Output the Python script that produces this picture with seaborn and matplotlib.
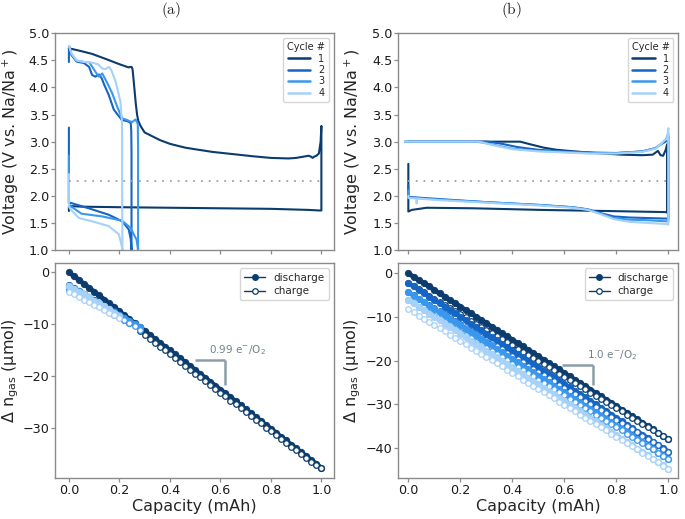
import numpy as np
import pandas as pd
import seaborn as sns
import matplotlib.pyplot as plt
from matplotlib.lines import Line2D

# ---------------- colours ----------------
cycle_colors = ['#0b3c6d', '#1565c4', '#3a97ee', '#a6d1f8']
cycle_labels = ['1', '2', '3', '4']

# ---------------- panel (a) voltage profiles ----------------
va1_x = [0.0, 0.0, 0.01, 0.05, 0.2, 0.4, 0.6, 0.8, 0.95, 0.99, 1.0, 1.0, 0.997, 0.99, 0.98, 0.97, 0.965,
         0.96, 0.95, 0.9, 0.87, 0.8, 0.73, 0.65, 0.57, 0.5, 0.46, 0.4, 0.36, 0.33, 0.30, 0.285, 0.275,
         0.27, 0.265, 0.26, 0.255, 0.252, 0.248, 0.242, 0.237, 0.2, 0.15, 0.092, 0.05, 0.013, 0.0]
va1_y = [1.72, 1.80, 1.81, 1.80, 1.79, 1.78, 1.77, 1.76, 1.74, 1.73, 1.73, 3.29, 3.0, 2.78, 2.74, 2.72, 2.70,
         2.72, 2.74, 2.70, 2.69, 2.70, 2.73, 2.77, 2.81, 2.86, 2.89, 2.96, 3.03, 3.10, 3.17, 3.28, 3.38,
         3.50, 3.70, 3.95, 4.20, 4.34, 4.38, 4.38, 4.37, 4.43, 4.52, 4.62, 4.67, 4.71, 4.72]

va2_x = [0.0, 0.0, 0.0, 0.007, 0.05, 0.092, 0.158, 0.211, 0.237, 0.245, 0.248, 0.248, 0.248, 0.247, 0.245,
         0.24, 0.23, 0.21, 0.198, 0.178, 0.158, 0.14, 0.13, 0.119, 0.105, 0.092, 0.08, 0.06, 0.03, 0.01,
         0.003, 0.0, 0.0]
va2_y = [3.26, 2.5, 1.88, 1.87, 1.81, 1.75, 1.65, 1.53, 1.38, 1.2, 1.0, 2.0, 2.8, 3.2, 3.34,
         3.36, 3.38, 3.40, 3.47, 3.59, 3.86, 4.05, 4.17, 4.24, 4.20, 4.23, 4.38, 4.45, 4.48, 4.6,
         4.72, 4.73, 4.47]

va3_x = [0.0, 0.0, 0.007, 0.05, 0.132, 0.211, 0.244, 0.268, 0.274, 0.274, 0.274, 0.273, 0.272, 0.264,
         0.25, 0.23, 0.211, 0.191, 0.171, 0.15, 0.132, 0.119, 0.105, 0.09, 0.08, 0.06, 0.03, 0.01, 0.003, 0.0]
va3_y = [2.74, 1.85, 1.81, 1.67, 1.62, 1.54, 1.41, 1.19, 1.0, 2.0, 2.89, 3.3, 3.34, 3.41,
         3.36, 3.40, 3.43, 3.65, 3.90, 4.10, 4.26, 4.20, 4.29, 4.40, 4.47, 4.47, 4.5, 4.62, 4.75, 4.75]

va4_x = [0.0, 0.0, 0.007, 0.04, 0.092, 0.158, 0.198, 0.211, 0.212, 0.211, 0.211, 0.21, 0.204, 0.185,
         0.168, 0.158, 0.145, 0.132, 0.115, 0.08, 0.06, 0.03, 0.01, 0.0]
va4_y = [2.4, 1.80, 1.75, 1.59, 1.53, 1.44, 1.29, 1.04, 1.0, 2.0, 3.05, 3.37, 3.74, 4.11,
         4.32, 4.38, 4.34, 4.35, 4.43, 4.47, 4.47, 4.5, 4.63, 4.77]

# ---------------- panel (b) voltage profiles ----------------
vb1_x = [0.0, 0.0, 0.013, 0.07, 0.25, 0.51, 0.76, 0.99, 0.995, 0.995, 0.99, 0.98, 0.97, 0.96, 0.94, 0.9,
         0.82, 0.72, 0.64, 0.57, 0.52, 0.47, 0.43, 0.2, 0.0]
vb1_y = [2.59, 1.71, 1.74, 1.78, 1.77, 1.74, 1.72, 1.70, 1.69, 2.95, 2.85, 2.74, 2.75, 2.83, 2.76, 2.75,
         2.76, 2.79, 2.82, 2.85, 2.89, 2.95, 3.0, 3.0, 3.0]

vb2_x = [0.0, 0.0, 0.12, 0.31, 0.51, 0.63, 0.69, 0.74, 0.79, 0.85, 0.92, 0.99, 1.0, 1.0, 0.99, 0.975, 0.95,
         0.9, 0.8, 0.7, 0.6, 0.5, 0.42, 0.36, 0.32, 0.3, 0.1, -0.013]
vb2_y = [2.2, 1.98, 1.94, 1.88, 1.83, 1.79, 1.75, 1.68, 1.62, 1.60, 1.59, 1.58, 1.58, 3.1, 3.0, 2.96, 2.88,
         2.82, 2.79, 2.80, 2.82, 2.85, 2.90, 2.96, 2.99, 3.0, 3.0, 3.0]

vb3_x = [0.0, 0.0, 0.12, 0.31, 0.51, 0.63, 0.69, 0.74, 0.79, 0.85, 0.92, 0.99, 1.0, 1.0, 0.99, 0.975, 0.95,
         0.9, 0.8, 0.7, 0.6, 0.5, 0.4, 0.34, 0.29, 0.26, 0.1, -0.013]
vb3_y = [2.1, 1.97, 1.93, 1.88, 1.83, 1.79, 1.75, 1.67, 1.59, 1.56, 1.55, 1.53, 1.53, 3.15, 3.03, 2.97, 2.88,
         2.82, 2.79, 2.79, 2.81, 2.83, 2.87, 2.93, 2.98, 3.0, 3.0, 3.0]

vb4_x = [0.0, 0.0, 0.03, 0.032, 0.034, 0.12, 0.31, 0.51, 0.63, 0.69, 0.74, 0.79, 0.85, 0.92, 0.99, 1.0, 1.0,
         0.995, 0.985, 0.975, 0.95, 0.9, 0.8, 0.7, 0.6, 0.5, 0.4, 0.33, 0.29, 0.27, 0.1, -0.013]
vb4_y = [2.0, 1.96, 1.95, 1.86, 1.95, 1.92, 1.87, 1.82, 1.78, 1.74, 1.66, 1.57, 1.52, 1.50, 1.48, 1.47, 3.25,
         3.05, 3.03, 2.97, 2.87, 2.81, 2.78, 2.78, 2.80, 2.82, 2.86, 2.93, 2.98, 3.0, 3.0, 3.0]

cutoff_v = 2.27

# ---------------- gas consumption data ----------------
cap51 = [0.00, 0.02, 0.04, 0.06, 0.08, 0.10, 0.12, 0.14, 0.16, 0.18, 0.20, 0.22, 0.24, 0.26, 0.28, 0.30,
         0.32, 0.34, 0.36, 0.38, 0.40, 0.42, 0.44, 0.46, 0.48, 0.50, 0.52, 0.54, 0.56, 0.58, 0.60, 0.62,
         0.64, 0.66, 0.68, 0.70, 0.72, 0.74, 0.76, 0.78, 0.80, 0.82, 0.84, 0.86, 0.88, 0.90, 0.92, 0.94,
         0.96, 0.98, 1.00]

# panel (a)
ga_d1 = [0.0, -0.8, -1.5, -2.3, -3.0, -3.8, -4.5, -5.3, -6.0, -6.8, -7.6, -8.3, -9.1, -9.8, -10.6, -11.3,
         -12.1, -12.9, -13.6, -14.4, -15.1, -15.9, -16.6, -17.4, -18.1, -18.9, -19.7, -20.4, -21.2, -21.9,
         -22.7, -23.4, -24.2, -24.9, -25.7, -26.5, -27.2, -28.0, -28.7, -29.5, -30.2, -31.0, -31.8, -32.5,
         -33.3, -34.0, -34.8, -35.5, -36.3, -37.0, -37.8]
cap_a1c = [0.28, 0.30, 0.32, 0.34, 0.36, 0.38, 0.40, 0.42, 0.44, 0.46, 0.48, 0.50, 0.52, 0.54, 0.56, 0.58,
           0.60, 0.62, 0.64, 0.66, 0.68, 0.70, 0.72, 0.74, 0.76, 0.78, 0.80, 0.82, 0.84, 0.86, 0.88, 0.90,
           0.92, 0.94, 0.96, 0.98, 1.00]
ga_c1 = [-11.4, -12.2, -12.9, -13.6, -14.4, -15.1, -15.9, -16.6, -17.4, -18.1, -18.8, -19.6, -20.3, -21.1,
         -21.8, -22.6, -23.3, -24.0, -24.8, -25.5, -26.3, -27.0, -27.7, -28.5, -29.2, -30.0, -30.7, -31.4,
         -32.2, -32.9, -33.7, -34.4, -35.1, -35.9, -36.6, -37.3, -37.8]
cap_a2 = [0.00, 0.02, 0.04, 0.06, 0.08, 0.10, 0.12, 0.14, 0.16, 0.18, 0.20, 0.22, 0.24]
ga_d2 = [-2.5, -3.1, -3.6, -4.2, -4.8, -5.4, -5.9, -6.5, -7.1, -7.6, -8.2, -8.8, -9.4]
ga_c2 = [-3.4, -3.9, -4.5, -5.0, -5.5, -6.1, -6.6, -7.1, -7.6, -8.2, -8.7, -9.2, -9.8]
cap_a3 = [0.00, 0.02, 0.04, 0.06, 0.08, 0.10, 0.12, 0.14, 0.16, 0.18, 0.20, 0.22, 0.24, 0.26, 0.28]
ga_d3 = [-2.6, -3.2, -3.7, -4.3, -4.9, -5.5, -6.0, -6.6, -7.2, -7.7, -8.3, -8.9, -9.4, -10.0, -10.6]
ga_c3 = [-3.6, -4.1, -4.6, -5.1, -5.6, -6.1, -6.6, -7.1, -7.6, -8.1, -8.6, -9.2, -9.8, -10.5, -11.2]
cap_a4 = [0.00, 0.02, 0.04, 0.06, 0.08, 0.10, 0.12, 0.14, 0.16, 0.18, 0.20]
ga_d4 = [-2.6, -3.2, -3.8, -4.3, -4.9, -5.5, -6.0, -6.6, -7.2, -7.8, -8.4]
ga_c4 = [-3.9, -4.3, -4.8, -5.3, -5.8, -6.3, -6.8, -7.3, -7.8, -8.3, -8.8]

# panel (b)
gb_d1 = [0.0, -0.8, -1.5, -2.3, -3.0, -3.8, -4.6, -5.3, -6.1, -6.8, -7.6, -8.4, -9.1, -9.9, -10.6, -11.4,
         -12.2, -12.9, -13.7, -14.4, -15.2, -16.0, -16.7, -17.5, -18.2, -19.0, -19.8, -20.5, -21.3, -22.0,
         -22.8, -23.6, -24.3, -25.1, -25.8, -26.6, -27.4, -28.1, -28.9, -29.6, -30.4, -31.2, -31.9, -32.7,
         -33.4, -34.2, -35.0, -35.7, -36.5, -37.2, -38.0]
gb_c1 = [-2.2, -2.9, -3.6, -4.3, -5.1, -5.8, -6.5, -7.2, -7.9, -8.6, -9.4, -10.1, -10.8, -11.5, -12.2, -12.9,
         -13.7, -14.4, -15.1, -15.8, -16.5, -17.2, -18.0, -18.7, -19.4, -20.1, -20.8, -21.5, -22.2, -23.0,
         -23.7, -24.4, -25.1, -25.8, -26.5, -27.3, -28.0, -28.7, -29.4, -30.1, -30.8, -31.6, -32.3, -33.0,
         -33.7, -34.4, -35.1, -35.9, -36.6, -37.3, -38.0]
gb_d2 = [-2.2, -3.0, -3.7, -4.5, -5.3, -6.1, -6.8, -7.6, -8.4, -9.1, -9.9, -10.7, -11.5, -12.2, -13.0, -13.8,
         -14.6, -15.3, -16.1, -16.9, -17.6, -18.4, -19.2, -20.0, -20.7, -21.5, -22.3, -23.0, -23.8, -24.6,
         -25.4, -26.1, -26.9, -27.7, -28.4, -29.2, -30.0, -30.8, -31.5, -32.3, -33.1, -33.9, -34.6, -35.4,
         -36.2, -36.9, -37.7, -38.5, -39.3, -40.0, -40.8]
gb_c2 = [-4.3, -5.0, -5.8, -6.5, -7.2, -8.0, -8.7, -9.4, -10.1, -10.9, -11.6, -12.3, -13.1, -13.8, -14.5,
         -15.3, -16.0, -16.7, -17.4, -18.2, -18.9, -19.6, -20.4, -21.1, -21.8, -22.6, -23.3, -24.0, -24.7,
         -25.5, -26.2, -26.9, -27.7, -28.4, -29.1, -29.9, -30.6, -31.3, -32.0, -32.8, -33.5, -34.2, -35.0,
         -35.7, -36.4, -37.2, -37.9, -38.6, -39.3, -40.1, -40.8]
gb_d3 = [-4.3, -5.1, -5.8, -6.6, -7.4, -8.1, -8.9, -9.6, -10.4, -11.2, -11.9, -12.7, -13.5, -14.2, -15.0,
         -15.8, -16.5, -17.3, -18.1, -18.8, -19.6, -20.3, -21.1, -21.9, -22.6, -23.4, -24.2, -24.9, -25.7,
         -26.5, -27.2, -28.0, -28.7, -29.5, -30.3, -31.0, -31.8, -32.6, -33.3, -34.1, -34.9, -35.6, -36.4,
         -37.2, -37.9, -38.7, -39.4, -40.2, -41.0, -41.7, -42.5]
gb_c3 = [-6.1, -6.8, -7.6, -8.3, -9.0, -9.7, -10.5, -11.2, -11.9, -12.7, -13.4, -14.1, -14.8, -15.6, -16.3,
         -17.0, -17.7, -18.5, -19.2, -19.9, -20.7, -21.4, -22.1, -22.8, -23.6, -24.3, -25.0, -25.8, -26.5,
         -27.2, -27.9, -28.7, -29.4, -30.1, -30.9, -31.6, -32.3, -33.0, -33.8, -34.5, -35.2, -35.9, -36.7,
         -37.4, -38.1, -38.9, -39.6, -40.3, -41.0, -41.8, -42.5]
gb_d4 = [-6.1, -6.9, -7.6, -8.4, -9.2, -10.0, -10.7, -11.5, -12.3, -13.0, -13.8, -14.6, -15.4, -16.1, -16.9,
         -17.7, -18.5, -19.2, -20.0, -20.8, -21.5, -22.3, -23.1, -23.9, -24.6, -25.4, -26.2, -26.9, -27.7,
         -28.5, -29.3, -30.0, -30.8, -31.6, -32.3, -33.1, -33.9, -34.7, -35.4, -36.2, -37.0, -37.8, -38.5,
         -39.3, -40.1, -40.8, -41.6, -42.4, -43.2, -43.9, -44.7]
gb_c4 = [-8.2, -8.9, -9.7, -10.4, -11.1, -11.9, -12.6, -13.3, -14.0, -14.8, -15.5, -16.2, -17.0, -17.7,
         -18.4, -19.2, -19.9, -20.6, -21.3, -22.1, -22.8, -23.5, -24.3, -25.0, -25.7, -26.5, -27.2, -27.9,
         -28.6, -29.4, -30.1, -30.8, -31.6, -32.3, -33.0, -33.8, -34.5, -35.2, -35.9, -36.7, -37.4, -38.1,
         -38.9, -39.6, -40.3, -41.1, -41.8, -42.5, -43.2, -44.0, -44.7]

slope_a_label = '0.99 e$^{-}$/O$_2$'
slope_b_label = '1.0 e$^{-}$/O$_2$'

# ---------------- styling ----------------
sns.set_style('ticks')
spine_c = '#8a8a8a'
plt.rcParams['font.family'] = ['DejaVu Sans']
plt.rcParams['axes.edgecolor'] = spine_c
plt.rcParams['axes.linewidth'] = 1.0
plt.rcParams['xtick.color'] = spine_c
plt.rcParams['ytick.color'] = spine_c
plt.rcParams['xtick.labelcolor'] = '#1a1a1a'
plt.rcParams['ytick.labelcolor'] = '#1a1a1a'

fig = plt.figure(figsize=(6.85, 5.19), dpi=100)
ax_at = fig.add_axes([0.0803, 0.5183, 0.4073, 0.4175])
ax_ab = fig.add_axes([0.0803, 0.0784, 0.4073, 0.4143])
ax_bt = fig.add_axes([0.5815, 0.5183, 0.4088, 0.4175])
ax_bb = fig.add_axes([0.5815, 0.0784, 0.4088, 0.4143])

tick_fs = 9.2
label_fs = 11.5
tick_kw = dict(direction='out', length=2.6, width=0.9, pad=1.6, labelsize=tick_fs)


def volt_panel(ax, curves, xlim, label_x):
    for (xs, ys), c in zip(curves, cycle_colors):
        sns.lineplot(x=xs, y=ys, sort=False, estimator=None, color=c, linewidth=1.5, ax=ax)
    sns.lineplot(x=[0.0, 1.0], y=[cutoff_v, cutoff_v], color='#a0a0a0', linewidth=1.3,
                 linestyle=(0, (1, 3.3)), ax=ax)
    ax.set_xlim(*xlim)
    ax.set_ylim(1.0, 5.0)
    ax.set_yticks([1.0, 1.5, 2.0, 2.5, 3.0, 3.5, 4.0, 4.5, 5.0])
    ax.set_xticks([0.0, 0.2, 0.4, 0.6, 0.8, 1.0])
    ax.tick_params(labelbottom=False, **tick_kw)
    ax.set_ylabel('Voltage (V vs. Na/Na$^+$)', fontsize=label_fs)
    ax.yaxis.set_label_coords(label_x, 0.5)
    ax.set_xlabel('')
    handles = [Line2D([0], [0], color=c, lw=1.8) for c in cycle_colors]
    ax.legend(handles, cycle_labels, title='Cycle #', loc='upper right', fontsize=7,
              title_fontsize=7, handlelength=2.3, labelspacing=0.15, borderpad=0.4,
              alignment='center', markerfirst=True)


def gas_panel(ax, series, xlim, ylim, yticks, bracket, txt, txt_pos, label_x):
    for (xd, yd, xc, yc), c in zip(series, cycle_colors):
        sns.lineplot(x=xd, y=yd, sort=False, estimator=None, color=c, linewidth=3.4, marker='o',
                     markersize=4.6, markeredgecolor=c, markeredgewidth=0.6, ax=ax)
        sns.lineplot(x=xc, y=yc, sort=False, estimator=None, color=c, linewidth=1.0, marker='o',
                     markersize=4.0, markerfacecolor='white', markeredgecolor=c,
                     markeredgewidth=0.9, ax=ax)
    (x0, x1, y0, y1) = bracket
    ax.plot([x0, x1], [y0, y0], color='#8b9ea7', lw=1.8, solid_capstyle='butt')
    ax.plot([x1, x1], [y0, y1], color='#8b9ea7', lw=1.8, solid_capstyle='butt')
    ax.text(txt_pos[0], txt_pos[1], txt, fontsize=7.5, color='#6f8089', va='baseline')
    ax.set_xlim(*xlim)
    ax.set_ylim(*ylim)
    ax.set_yticks(yticks)
    ax.set_xticks([0.0, 0.2, 0.4, 0.6, 0.8, 1.0])
    ax.tick_params(**tick_kw)
    ax.set_xlabel('Capacity (mAh)', fontsize=label_fs, labelpad=1.5)
    ax.set_ylabel(r'$\Delta$ n$_{\mathrm{gas}}$ (μmol)', fontsize=label_fs)
    ax.yaxis.set_label_coords(label_x, 0.5)
    navy = cycle_colors[0]
    handles = [Line2D([0], [0], color=navy, lw=1.0, marker='o', markersize=4, markeredgecolor=navy),
               Line2D([0], [0], color=navy, lw=1.0, marker='o', markersize=4,
                      markerfacecolor='white', markeredgecolor=navy, markeredgewidth=0.9)]
    ax.legend(handles, ['discharge', 'charge'], loc='upper right', fontsize=7.5,
              handlelength=2.0, labelspacing=0.35)


volt_panel(ax_at, [(va1_x, va1_y), (va2_x, va2_y), (va3_x, va3_y), (va4_x, va4_y)],
           (-0.055, 1.05), -0.122)
volt_panel(ax_bt, [(vb1_x, vb1_y), (vb2_x, vb2_y), (vb3_x, vb3_y), (vb4_x, vb4_y)],
           (-0.0385, 1.0385), -0.127)

gas_panel(ax_ab,
          [(cap51, ga_d1, cap_a1c, ga_c1), (cap_a2, ga_d2, cap_a2, ga_c2),
           (cap_a3, ga_d3, cap_a3, ga_c3), (cap_a4, ga_d4, cap_a4, ga_c4)],
          (-0.055, 1.05), (-39.8, 1.7), [0, -10, -20, -30],
          (0.50, 0.62, -16.9, -21.7), slope_a_label, (0.553, -15.6), -0.122)
gas_panel(ax_bb,
          [(cap51, gb_d1, cap51, gb_c1), (cap51, gb_d2, cap51, gb_c2),
           (cap51, gb_d3, cap51, gb_c3), (cap51, gb_d4, cap51, gb_c4)],
          (-0.0385, 1.0385), (-46.9, 2.3), [0, -10, -20, -30, -40],
          (0.59, 0.71, -20.9, -25.6), slope_b_label, (0.687, -19.5), -0.127)

fig.text(0.25, 0.981, r'$\mathrm{(a)}$', math_fontfamily='cm', ha='center', va='center', fontsize=11)
fig.text(0.747, 0.981, r'$\mathrm{(b)}$', math_fontfamily='cm', ha='center', va='center', fontsize=11)

fig.savefig('out.png', dpi=100)
